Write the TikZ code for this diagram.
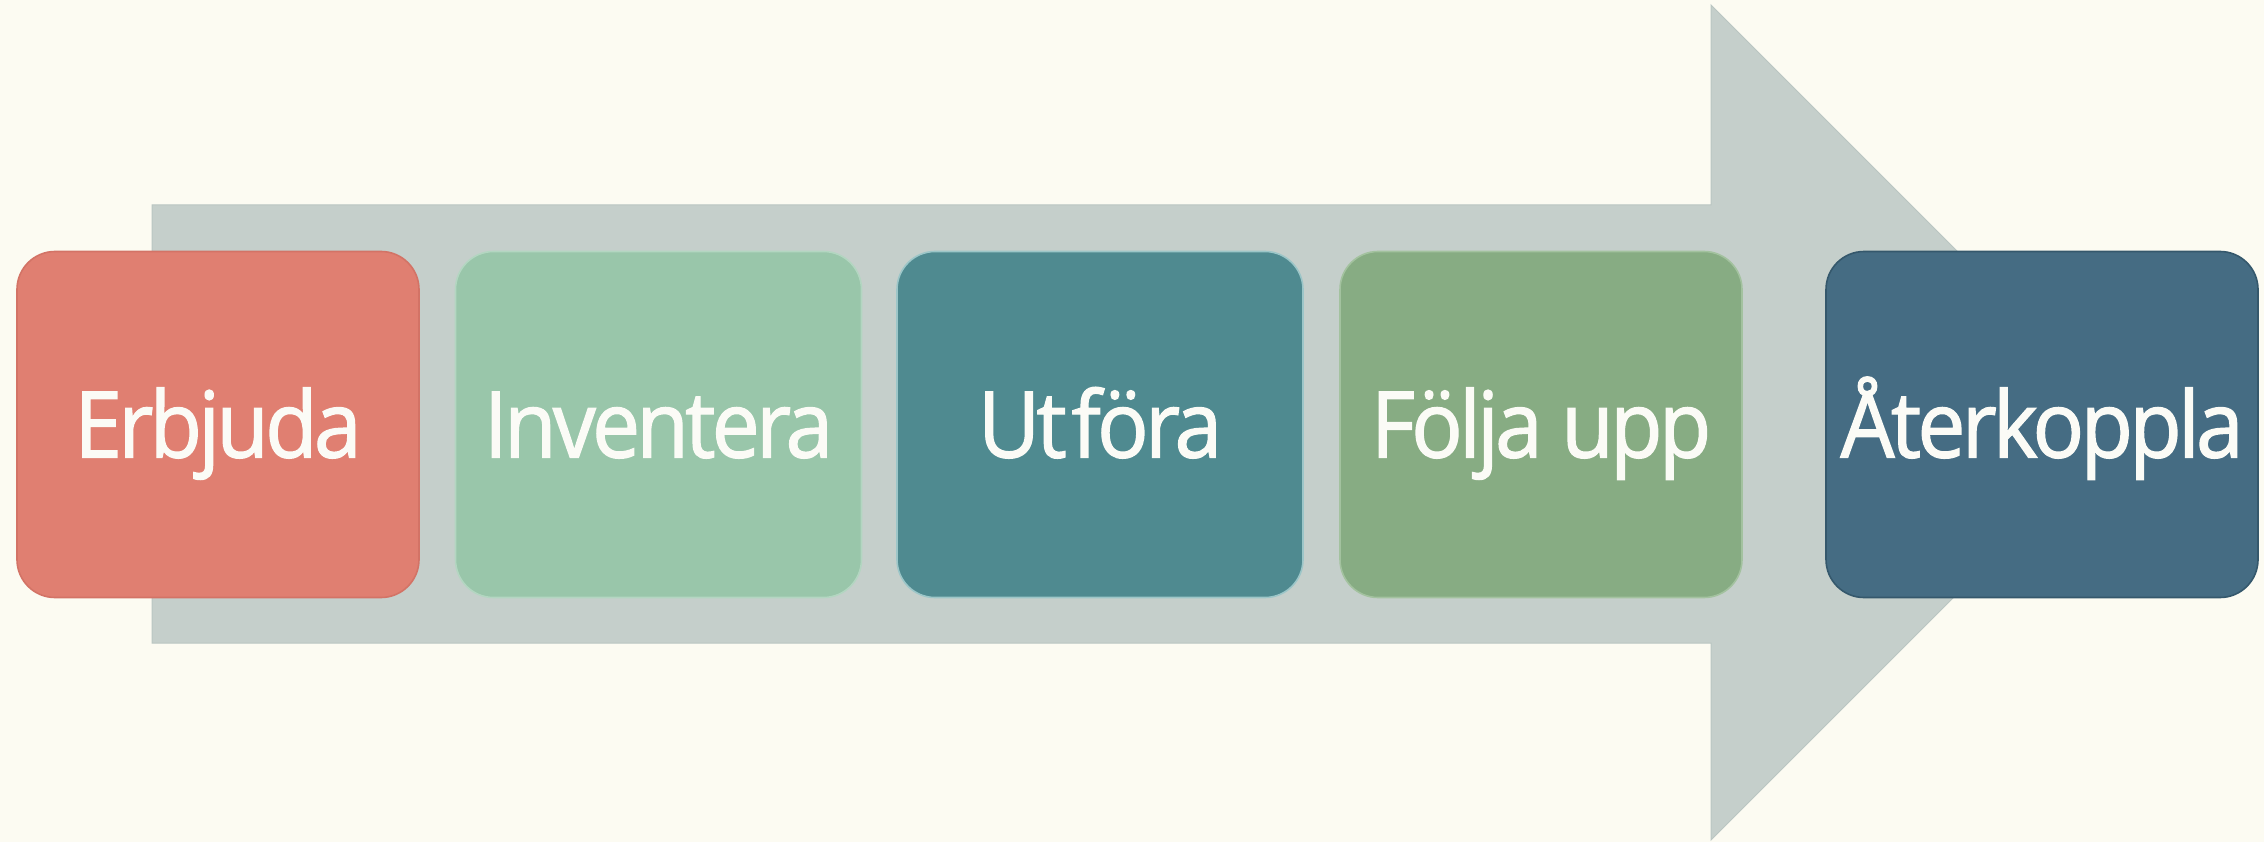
\documentclass[tikz,border=0pt]{standalone}
\usepackage{fontspec}
\newfontfamily\boxfont{Open Sans}[FakeStretch=0.93,FakeBold=1.4,LetterSpace=-4]
\definecolor{bgcol}{HTML}{FCFBF2}
\definecolor{arrowcol}{HTML}{C5CFCB}
\definecolor{arrowedge}{HTML}{BAC6C2}
\definecolor{cA}{HTML}{E07F71}
\definecolor{cAedge}{HTML}{D37366}
\definecolor{cB}{HTML}{99C6AA}
\definecolor{cBedge}{HTML}{B3D6C1}
\definecolor{cC}{HTML}{4F8A90}
\definecolor{cCedge}{HTML}{9CC6C8}
\definecolor{cD}{HTML}{87AC83}
\definecolor{cDedge}{HTML}{A3C29F}
\definecolor{cE}{HTML}{456C83}
\definecolor{cEedge}{HTML}{35586C}
\definecolor{txtcol}{HTML}{FBFBF6}
\tikzset{
  stepbox/.style={rounded corners=38pt, line width=1.6pt, inner sep=0pt,
    minimum height=346pt, text height=66pt, text depth=0pt,
    font=\boxfont\fontsize{92}{100}\selectfont, text=txtcol}
}
\begin{document}
\begin{tikzpicture}[x=1pt,y=-1pt]
\fill[bgcol] (0,0) rectangle (2264,842);
\useasboundingbox (0,0) rectangle (2264,842);
% big arrow
\filldraw[fill=arrowcol, draw=arrowedge, line width=1pt]
  (152,205) -- (1711,205) -- (1711,5) -- (2128.5,422.5) -- (1711,840) -- (1711,643) -- (152,643) -- cycle;
% steps
\node[stepbox, fill=cA, draw=cAedge, minimum width=402pt] (erbjuda) at (218,424.5) {Erbjuda};
\node[stepbox, fill=cB, draw=cBedge, minimum width=406pt] (inventera) at (658.5,424.5) {Inventera};
\node[stepbox, fill=cC, draw=cCedge, minimum width=406pt] (utfora) at (1100,424.5) {Ut\kern5pt föra};
\node[stepbox, fill=cD, draw=cDedge, minimum width=402pt] (folja) at (1541,424.5) {Följa upp};
\node[stepbox, fill=cE, draw=cEedge, minimum width=432pt] (aterkoppla) at (2042,424.5) {Återkoppla};
\end{tikzpicture}
\end{document}
